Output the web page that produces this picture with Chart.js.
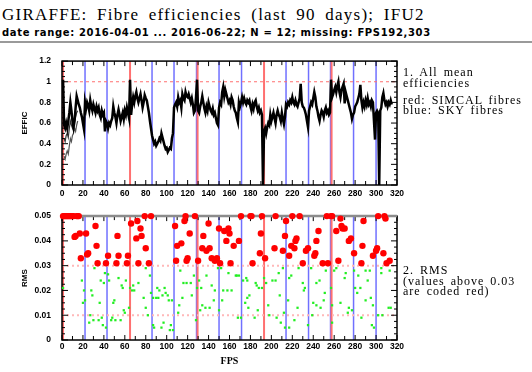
<!DOCTYPE html>
<html>
<head>
<meta charset="utf-8">
<script src="https://cdn.jsdelivr.net/npm/chart.js@4.4.1/dist/chart.umd.min.js"></script>
<style>
  body { margin:0; background:#fff; width:532px; height:372px; overflow:hidden; position:relative; }
  .txt { position:absolute; white-space:nowrap; color:#000; line-height:1; }
  .serif { font-family:"Liberation Serif", serif; }
  .box { position:absolute; left:0; }
  #title { left:2px; top:6px; font-size:17px; letter-spacing:1.25px; word-spacing:4px; }
  #sub { left:2px; top:28px; font-family:"DejaVu Sans", sans-serif; font-weight:bold; font-size:10px; letter-spacing:0.65px; }
  #rule { position:absolute; left:0; top:41px; width:532px; height:2px; background:#9a9a9a; }
  .side { left:403px; font-size:12px; letter-spacing:1px; word-spacing:2px; }
</style>
</head>
<body>
<div id="title" class="txt serif">GIRAFFE: Fibre efficiencies (last 90 days); IFU2</div>
<div id="sub" class="txt">date range: 2016-04-01 ... 2016-06-22; N = 12; missing: FPS192,303</div>
<div id="rule"></div>

<div class="box" style="top:45px"><canvas id="effic" width="420" height="165"></canvas></div>
<div class="box" style="top:200px"><canvas id="rms" width="420" height="172"></canvas></div>

<div class="txt serif side" style="top:66px">1. All mean</div>
<div class="txt serif side" style="top:77px">efficiencies</div>
<div class="txt serif side" style="top:94px">red: SIMCAL fibres</div>
<div class="txt serif side" style="top:104px">blue: SKY fibres</div>
<div class="txt serif side" style="top:264px">2. RMS</div>
<div class="txt serif side" style="top:275px">(values above 0.03</div>
<div class="txt serif side" style="top:285px">are coded red)</div>

<script>
// fibre positions (FPS) of the special fibres
const skyFibres = [22, 43, 86, 107, 128.5, 150, 171.5, 214, 235.5, 256.5, 278.5, 300];
const simcalFibres = [1, 65, 129.5, 193, 257.5];

// mean efficiency per fibre, FPS 1..315 (missing fibres at 0)
const efficMean = [
  1.02,0.58,0.55,0.6,0.55,0.62,0.7,0.8,0.72,0.62,
  0.56,0.62,0.75,0.86,0.82,0.78,0.75,0.7,0.66,0.6,
  0.54,0.8,0.74,0.8,0.77,0.72,0.82,0.76,0.72,0.78,
  0.74,0.7,0.76,0.72,0.75,0.68,0.65,0.72,0.68,0.7,
  0.52,0.62,0.6,0.55,0.6,0.58,0.62,0.65,0.76,0.7,
  0.66,0.6,0.68,0.73,0.68,0.62,0.66,0.7,0.64,0.72,
  0.68,0.75,0.7,0.65,1.02,0.68,0.78,0.85,0.8,0.86,
  0.9,0.84,0.8,0.84,0.88,0.82,0.75,0.8,0.87,0.84,
  0.82,0.76,0.7,0.62,0.55,0.48,0.44,0.4,0.42,0.38,
  0.4,0.42,0.45,0.43,0.5,0.46,0.42,0.38,0.35,0.36,
  0.32,0.34,0.36,0.35,0.45,0.5,0.75,0.78,0.8,0.76,
  0.85,0.8,0.82,0.75,0.88,0.84,0.82,0.9,0.86,0.85,
  0.88,0.84,0.8,0.84,0.78,0.7,0.72,0.85,1.02,0.72,
  0.7,0.76,0.8,0.86,0.8,0.74,0.7,0.76,0.72,0.8,
  0.76,0.72,0.7,0.74,0.68,0.7,0.65,0.6,0.58,0.75,
  0.8,0.78,0.9,0.95,0.86,0.92,0.88,0.84,0.8,0.82,
  0.78,0.85,0.82,0.76,0.72,0.7,0.65,0.61,0.8,0.76,
  0.8,0.85,0.8,0.84,0.8,0.78,0.82,0.8,0.82,0.76,
  0.72,0.78,0.74,0.8,0.82,0.76,0.72,0.75,0.7,0.72,
  0.68,0,0.52,0.55,0.5,0.56,0.6,0.58,0.68,0.62,
  0.66,0.7,0.65,0.6,0.68,0.72,0.68,0.66,0.62,0.7,
  0.64,0.59,0.66,0.78,0.76,0.8,0.78,0.82,0.8,0.85,
  0.8,0.78,0.82,0.78,0.76,0.8,0.84,0.98,0.8,0.76,
  0.75,0.72,0.68,0.62,0.56,0.72,0.76,0.8,0.78,0.84,
  0.9,0.85,0.76,0.72,0.66,0.62,0.68,0.72,0.7,0.66,
  0.72,0.75,0.7,0.72,0.68,0.7,1.02,0.85,0.88,0.92,
  0.95,0.9,0.96,1.0,0.9,0.85,0.92,0.95,0.98,0.79,
  0.9,0.86,0.82,0.78,0.74,0.7,0.64,0.68,0.7,0.76,
  0.78,0.8,0.84,0.88,0.97,0.82,0.75,0.8,0.76,0.82,
  0.78,0.84,0.78,0.8,0.76,0.82,0.8,0.62,0.44,0.7,
  0.72,0.7,0,0.72,0.75,0.85,0.89,0.82,0.78,0.8,
  0.76,0.8,0.78,0.82,0.78
];
// the low early-date curves, FPS 2..15
const efficLow = [0.28,0.25,0.3,0.33,0.3,0.38,0.45,0.42,0.48,0.5,0.55,0.52,0.58,0.62];
const efficMid = [0.45,0.42,0.48,0.5,0.46,0.55,0.62,0.58,0.55,0.6,0.62,0.66,0.7,0.72];

// rms per fibre [FPS, rms] (clipped at 0.05)
const rmsPoints = [
  [1,.05],[2,.05],[3,.05],[4,.05],[5,.05],[6,.05],[7,.05],[8,.05],[9,.05],[10,.05],[11,.05],
  [12,.0416],[13,.042],[14,.05],[15,.05],[16,.05],[17,.043],[18,.033],[23,.043],[24,.0345],[25,.035],
  [32,.046],[33,.038],[34,.031],[42,.031],[44,.034],[52,.031],[53,.042],[54,.034],[62,.031],[63,.034],
  [66,.047],[71,.041],[72,.048],[73,.031],[75,.045],[76,.042],[79,.05],[80,.037],[83,.031],[85,.05],
  [108,.046],[109,.032],[110,.038],[114,.039],[117,.048],[118,.05],[119,.032],[120,.033],[122,.043],
  [127,.05],[130,.032],[135,.042],[134,.037],[138,.036],[140,.047],[141,.037],[143,.033],[146,.032],
  [148,.033],[150,.045],[151,.031],[155,.044],[157,.04],[159,.045],[160,.043],[161,.031],[164,.038],
  [169,.04],[171,.05],[180,.05],[181,.05],[182,.031],[190,.043],[189,.035],[191,.05],[194,.033],
  [203,.037],[204,.05],[211,.036],[213,.042],[214,.048],[217,.034],[219,.038],[220,.05],[222,.037],
  [223,.04],[224,.041],[227,.05],[230,.031],[233,.036],[235,.037],[241,.034],[242,.035],[243,.04],
  [245,.044],[249,.031],[253,.05],[254,.031],[257,.05],[258,.05],[262,.044],[264,.032],
  [266,.049],[267,.046],[268,.045],[270,.045],[274,.04],[276,.041],[279,.035],[288,.048],[287,.038],
  [286,.031],[297,.034],[300,.036],[301,.037],[302,.05],[308,.05],[309,.049],[307,.035],[310,.031],[313,.032],
  [1,.021],[19,.024],[20,.015],[21,.02],[22,.016],[26,.007],[27,.01],[28,.02],[29,.018],[30,.008],
  [31,.029],[35,.008],[36,.015],[37,.024],[38,.009],[39,.006],[40,.023],[41,.027],[42,.005],[44,.0265],
  [45,.024],[47,.008],[48,.009],[49,.015],[50,.016],[51,.008],[54,.025],[56,.008],[57,.022],[58,.021],
  [59,.012],[60,.011],[61,.024],[64,.013],[65,.021],[67,.02],[68,.022],[69,.02],[73,.023],[78,.017],
  [80,.029],[80,.013],[82,.01],[84,.026],[85,.019],[87,.017],[87,.006],[88,.005],[90,.017],[91,.021],
  [92,.017],[93,.02],[95,.005],[96,.018],[97,.007],[98,.021],[99,.019],[101,.018],[102,.016],[103,.004],
  [104,.006],[105,.016],[106,.004],[111,.011],[112,.014],[113,.028],[115,.017],[116,.023],[119,.023],
  [123,.023],[124,.018],[126,.026],[128,.008],[129,.021],[131,.024],[132,.012],[133,.021],[134,.014],
  [137,.013],[138,.026],[141,.013],[143,.022],[145,.016],[146,.02],[149,.029],[150,.012],[152,.029],
  [153,.016],[154,.02],[158,.02],[159,.027],[162,.02],[166,.026],[167,.026],[168,.009],[169,.026],
  [171,.009],[173,.024],[175,.015],[176,.025],[177,.017],[177,.024],[178,.013],[179,.018],[184,.009],
  [185,.023],[186,.022],[187,.012],[188,.021],[191,.021],[193,.025],[195,.023],[197,.014],[198,.01],
  [201,.024],[204,.024],[205,.009],[207,.027],[208,.018],[209,.007],[211,.029],[212,.011],[213,.005],
  [216,.016],[217,.005],[217,.025],[219,.026],[222,.008],[225,.013],[226,.029],[230,.023],[232,.021],
  [231,.02],[235,.006],[238,.029],[239,.01],[240,.015],[243,.023],[243,.014],[246,.024],[247,.013],
  [250,.016],[251,.019],[252,.028],[257,.021],[258,.007],[258,.014],[260,.028],[262,.029],[266,.015],
  [270,.025],[271,.027],[273,.011],[274,.013],[277,.012],[279,.028],[280,.021],[282,.019],[283,.026],
  [285,.021],[286,.009],[290,.016],[290,.028],[292,.024],[294,.028],[295,.017],[296,.006],[297,.014],
  [298,.005],[302,.01],[305,.027],[305,.029],[306,.01],[312,.013],[313,.028],[314,.013]
];
const rmsLimit = 0.03;

Chart.defaults.font.family = '"Liberation Sans", sans-serif';
Chart.defaults.font.weight = 'bold';
Chart.defaults.font.size = 8.5;
Chart.defaults.color = '#000';

// IDL-style box with inward ticks, fibre markers and reference lines
const idlFrame = {
  id: 'idlFrame',
  beforeDatasetsDraw(chart, args, opts) {
    const {ctx, chartArea: a, scales: {x, y}} = chart;
    ctx.save();
    const vline = (v, color, w) => {
      const px = x.getPixelForValue(v);
      ctx.strokeStyle = color; ctx.lineWidth = w;
      ctx.beginPath(); ctx.moveTo(px, a.top); ctx.lineTo(px, a.bottom); ctx.stroke();
    };
    skyFibres.forEach(v => vline(v, '#7070ff', 1.5));
    simcalFibres.forEach(v => vline(v, '#ff7070', 2));

    opts.refs.forEach(r => {
      const py = y.getPixelForValue(r.y);
      ctx.strokeStyle = r.color; ctx.lineWidth = r.width; ctx.setLineDash(r.dash);
      ctx.beginPath(); ctx.moveTo(a.left, py); ctx.lineTo(a.right, py); ctx.stroke();
    });
    ctx.setLineDash([]);

    ctx.strokeStyle = '#000'; ctx.lineWidth = 1.5;
    ctx.strokeRect(a.left, a.top, a.width, a.height);
    ctx.lineWidth = 1;
    ctx.beginPath();
    for (let v = 0; v <= 320; v += 10) {
      const px = x.getPixelForValue(v);
      const len = v % 20 === 0 ? 5 : 4;
      ctx.moveTo(px, a.bottom); ctx.lineTo(px, a.bottom - len);
      ctx.moveTo(px, a.top); ctx.lineTo(px, a.top + len);
    }
    const n = Math.round((y.max - y.min) / opts.yMinor);
    const per = Math.round(opts.yMajor / opts.yMinor);
    for (let i = 0; i <= n; i++) {
      const py = y.getPixelForValue(y.min + i * opts.yMinor);
      const len = i % per === 0 ? 6 : 3;
      ctx.moveTo(a.left, py); ctx.lineTo(a.left + len, py);
      ctx.moveTo(a.right, py); ctx.lineTo(a.right - len, py);
    }
    ctx.stroke();
    if (opts.topColor) {
      ctx.strokeStyle = opts.topColor; ctx.lineWidth = 2.5;
      ctx.beginPath(); ctx.moveTo(a.left, a.top); ctx.lineTo(a.right, a.top); ctx.stroke();
    }
    ctx.restore();
  }
};

function xAxis(height, pad, title) {
  return {
    type: 'linear', min: 0, max: 320,
    grid: { display: false, drawTicks: false },
    border: { display: false },
    ticks: { stepSize: 20, padding: pad, maxRotation: 0, autoSkip: false },
    title: title,
    afterFit: s => { s.height = height; }
  };
}
function yAxis(min, max, step, title) {
  return {
    min: min, max: max,
    grid: { display: false, drawTicks: false },
    border: { display: false },
    ticks: { stepSize: step, padding: 11, callback: v => String(parseFloat(v.toFixed(3))) },
    title: { display: true, text: title, padding: { top: 20, bottom: 0 },
             font: { size: 8, weight: 'bold' } },
    afterFit: s => { s.width = 62; }
  };
}

const common = {
  responsive: false, animation: false,
  plugins: { legend: { display: false }, tooltip: { enabled: false } }
};

new Chart(document.getElementById('effic'), {
  type: 'scatter',
  data: {
    datasets: [
      { data: efficMean.map((v, i) => ({ x: i + 1, y: v })), showLine: true,
        borderColor: '#000', borderWidth: 2.5, pointRadius: 0, clip: false },
      { data: efficMid.map((v, i) => ({ x: i + 2, y: v })), showLine: true,
        borderColor: '#333', borderWidth: 1.2, pointRadius: 0 },
      { data: efficLow.map((v, i) => ({ x: i + 2, y: v })), showLine: true,
        borderColor: '#555', borderWidth: 1.2, pointRadius: 0 }
    ]
  },
  options: Object.assign({}, common, {
    layout: { padding: { top: 12, right: 23, left: 0, bottom: 0 } },
    scales: {
      x: xAxis(25, 4, { display: false }),
      y: yAxis(0, 1.2, 0.2, 'EFFIC')
    },
    plugins: Object.assign({}, common.plugins, {
      idlFrame: { yMinor: 0.05, yMajor: 0.2,
        refs: [{ y: 1, color: '#ff7070', width: 1, dash: [3, 3] }] }
    })
  }),
  plugins: [idlFrame]
});

new Chart(document.getElementById('rms'), {
  type: 'scatter',
  data: {
    datasets: [
      { data: rmsPoints.filter(p => p[1] > rmsLimit).map(p => ({ x: p[0], y: p[1] })),
        pointRadius: 3.2, pointBackgroundColor: '#ff0000', pointBorderWidth: 0, clip: false },
      { data: rmsPoints.filter(p => p[1] <= rmsLimit).map(p => ({ x: p[0], y: p[1] })),
        pointStyle: 'rect', pointRadius: 1.6, pointBackgroundColor: '#22ee22', pointBorderWidth: 0, clip: false }
    ]
  },
  options: Object.assign({}, common, {
    layout: { padding: { top: 13, right: 23, left: 0, bottom: 0 } },
    scales: {
      x: xAxis(32, 2, { display: true, text: 'FPS', padding: { top: 0, bottom: 5 },
                        font: { family: '"Liberation Serif", serif', size: 10, weight: 'bold' } }),
      y: yAxis(0, 0.05, 0.01, 'RMS')
    },
    plugins: Object.assign({}, common.plugins, {
      idlFrame: { yMinor: 0.0025, yMajor: 0.01, topColor: '#8c8c8c',
        refs: [{ y: 0.03, color: '#ffb8b8', width: 2, dash: [2, 3] },
               { y: 0.01, color: '#ffb8b8', width: 2, dash: [2, 3] }] }
    })
  }),
  plugins: [idlFrame]
});
</script>
</body>
</html>
